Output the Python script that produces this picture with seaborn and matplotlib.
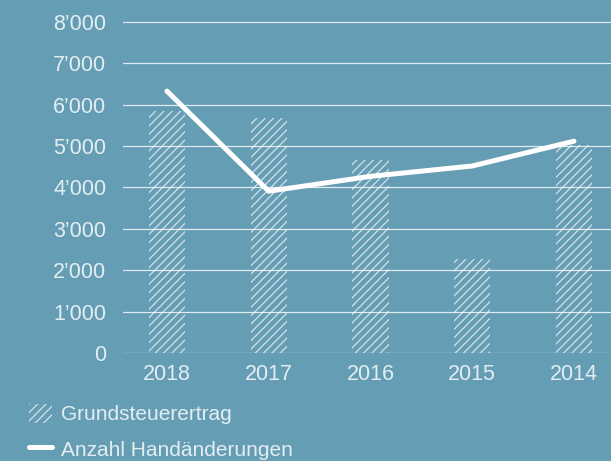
import matplotlib
matplotlib.use("Agg")
import matplotlib.pyplot as plt
import seaborn as sns
import pandas as pd
from matplotlib.patches import Patch
from matplotlib.lines import Line2D
from matplotlib.ticker import FuncFormatter

# data
years = ["2018", "2017", "2016", "2015", "2014"]
grundsteuer = [5850, 5680, 4660, 2270, 5020]      # bars
handaenderungen = [6330, 3910, 4270, 4520, 5120]  # line
y_ticks = [0, 1000, 2000, 3000, 4000, 5000, 6000, 7000, 8000]

bg = "#659db4"
txt = "#e3eef2"
hatch_col = (1, 1, 1, 0.7)

sns.set_theme(style="white")
plt.rcParams["font.family"] = ["Liberation Sans", "DejaVu Sans"]
plt.rcParams["hatch.linewidth"] = 0.9

df = pd.DataFrame({"Jahr": years, "Grundsteuerertrag": grundsteuer,
                   "Anzahl Handänderungen": handaenderungen})

fig = plt.figure(figsize=(6.11, 4.61), dpi=100, facecolor=bg)
ax = fig.add_axes([123 / 611, 108 / 461, 1 - 123 / 611, 333.07 / 461])
ax.set_facecolor(bg)

sns.barplot(data=df, x="Jahr", y="Grundsteuerertrag", ax=ax, width=0.355,
            color=bg, edgecolor="white", linewidth=0, hatch="////")
for p in ax.patches:
    p.set_facecolor("none")
    p.set_edgecolor(hatch_col)
    p.set_zorder(2)

sns.lineplot(data=df, x="Jahr", y="Anzahl Handänderungen", ax=ax,
             color="white", linewidth=3.6, zorder=3, sort=False)

ax.set_ylim(0, 8050)
ax.set_xlim(-0.432, 4.364)
ax.set_yticks(y_ticks)
ax.yaxis.set_major_formatter(FuncFormatter(lambda v, _: f"{int(v):,}".replace(",", "\u2019")))
ax.grid(axis="y", color="white", alpha=0.8, linewidth=0.9, zorder=0)
ax.set_axisbelow(True)
for s in ax.spines.values():
    s.set_visible(False)
ax.set_xlabel("")
ax.set_ylabel("")
ax.tick_params(axis="y", length=0, pad=12, labelsize=15.5, labelcolor=txt)
ax.tick_params(axis="x", length=0, pad=8, labelsize=15.5, labelcolor=txt)

handles = [Patch(facecolor="none", edgecolor=hatch_col, linewidth=0, hatch="////"),
           Line2D([0], [0], color="white", linewidth=3.6)]
leg = fig.legend(handles, ["Grundsteuerertrag", "Anzahl Handänderungen"],
                 loc="upper left", bbox_to_anchor=(29 / 611, 1 - 404 / 461),
                 frameon=False, fontsize=15, handlelength=1.1, handleheight=1.0,
                 handletextpad=0.45, labelspacing=0.7, borderpad=0, borderaxespad=0)
for t in leg.get_texts():
    t.set_color(txt)

fig.savefig("out.png", dpi=100, facecolor=bg)
